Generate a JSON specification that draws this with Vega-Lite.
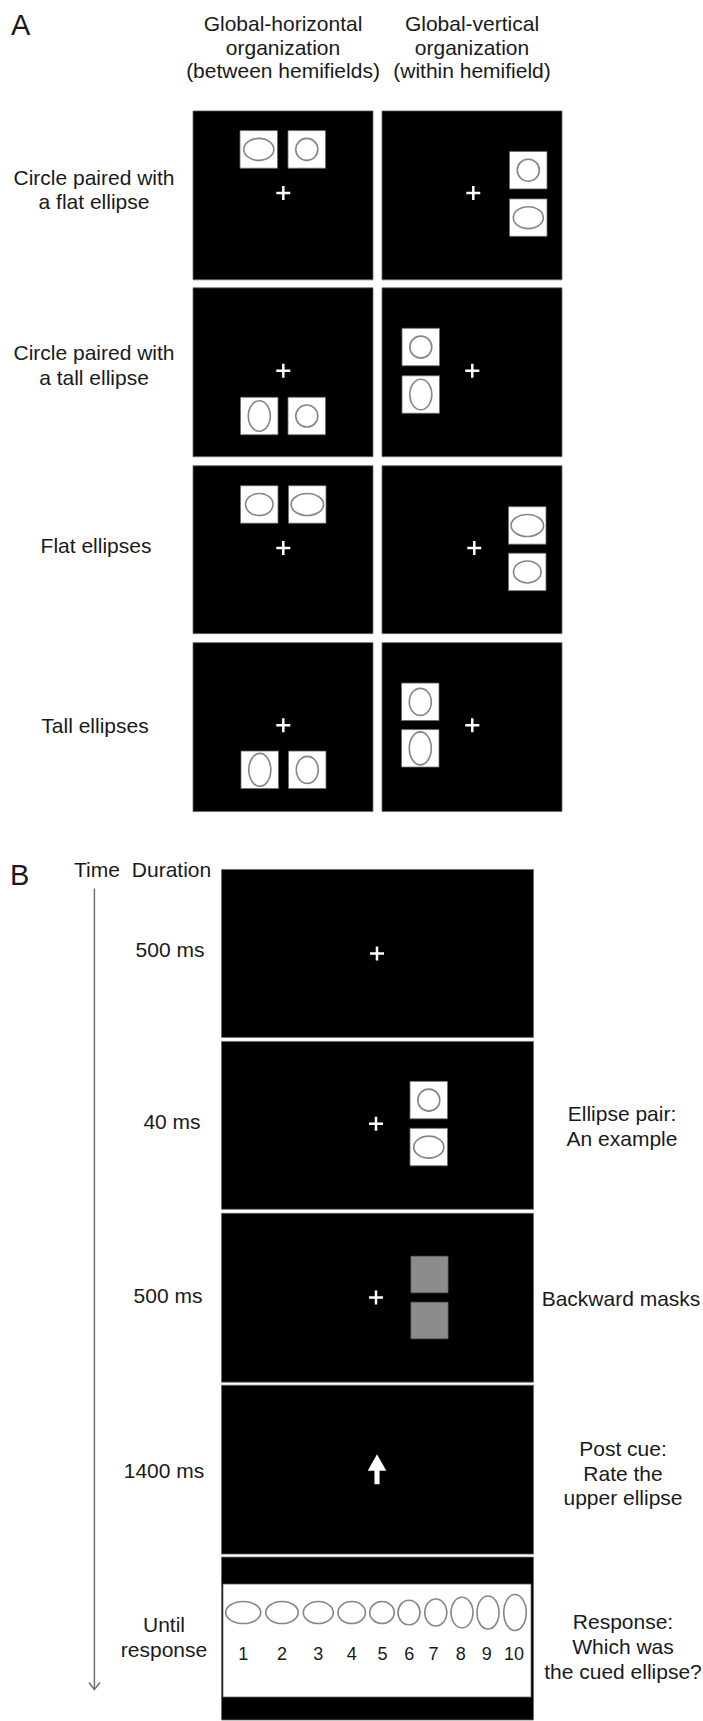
{
  "$schema": "https://vega.github.io/schema/vega-lite/v6.json",
  "width": 703,
  "height": 1721,
  "autosize": {"type": "fit", "contains": "padding"},
  "padding": 0,
  "background": "white",
  "config": {"view": {"stroke": null}},
  "datasets": {
    "rects": [
      {"kind": "panel", "x": 193, "x2": 373, "y": 111, "y2": 280},
      {"kind": "panel", "x": 382, "x2": 562, "y": 111, "y2": 280},
      {"kind": "panel", "x": 193, "x2": 373, "y": 288, "y2": 457},
      {"kind": "panel", "x": 382, "x2": 562, "y": 288, "y2": 457},
      {"kind": "panel", "x": 193, "x2": 373, "y": 466, "y2": 634},
      {"kind": "panel", "x": 382, "x2": 562, "y": 466, "y2": 634},
      {"kind": "panel", "x": 193, "x2": 373, "y": 643, "y2": 812},
      {"kind": "panel", "x": 382, "x2": 562, "y": 643, "y2": 812},
      {"kind": "panel", "x": 221.5, "x2": 533.5, "y": 870, "y2": 1038},
      {"kind": "panel", "x": 221.5, "x2": 533.5, "y": 1042, "y2": 1210},
      {"kind": "panel", "x": 221.5, "x2": 533.5, "y": 1214, "y2": 1383},
      {"kind": "panel", "x": 221.5, "x2": 533.5, "y": 1386, "y2": 1555},
      {"kind": "panel", "x": 221.5, "x2": 533.5, "y": 1558, "y2": 1721},
      {"kind": "box", "x": 240, "x2": 277.5, "y": 130.7, "y2": 168.3},
      {"kind": "box", "x": 288, "x2": 325.5, "y": 130.7, "y2": 168.3},
      {"kind": "box", "x": 509.5, "x2": 547, "y": 151.5, "y2": 189},
      {"kind": "box", "x": 509.5, "x2": 547, "y": 199, "y2": 236.5},
      {"kind": "box", "x": 240.5, "x2": 278, "y": 397.5, "y2": 435},
      {"kind": "box", "x": 288, "x2": 325.5, "y": 397.5, "y2": 435},
      {"kind": "box", "x": 402, "x2": 439.5, "y": 328.5, "y2": 366},
      {"kind": "box", "x": 402, "x2": 439.5, "y": 376, "y2": 413.5},
      {"kind": "box", "x": 240.5, "x2": 278, "y": 486, "y2": 523.5},
      {"kind": "box", "x": 288.5, "x2": 326, "y": 486, "y2": 523.5},
      {"kind": "box", "x": 508.5, "x2": 546, "y": 507, "y2": 544.5},
      {"kind": "box", "x": 508.5, "x2": 546, "y": 553.5, "y2": 591},
      {"kind": "box", "x": 241, "x2": 278.5, "y": 751.5, "y2": 789},
      {"kind": "box", "x": 288.5, "x2": 326, "y": 751.5, "y2": 789},
      {"kind": "box", "x": 401.5, "x2": 439, "y": 683.5, "y2": 721},
      {"kind": "box", "x": 401.5, "x2": 439, "y": 730, "y2": 767.5},
      {"kind": "box", "x": 410, "x2": 447.5, "y": 1082, "y2": 1119.5},
      {"kind": "box", "x": 410, "x2": 447.5, "y": 1129, "y2": 1166.5},
      {"kind": "mask", "x": 411, "x2": 448, "y": 1257, "y2": 1293.5},
      {"kind": "mask", "x": 411, "x2": 448, "y": 1303, "y2": 1339.5},
      {"kind": "box", "x": 223, "x2": 531, "y": 1585, "y2": 1698}
    ],
    "ellipses": [
      {"form": "f3", "len": 30, "x": 258.8, "y": 149.5},
      {"form": "circle", "len": 22, "x": 306.8, "y": 149.5},
      {"form": "circle", "len": 22, "x": 528.3, "y": 170.3},
      {"form": "f3", "len": 30, "x": 528.3, "y": 217.8},
      {"form": "t8", "len": 30.5, "x": 259.3, "y": 416.3},
      {"form": "circle", "len": 22, "x": 306.8, "y": 416.3},
      {"form": "circle", "len": 22, "x": 420.8, "y": 347.3},
      {"form": "t8", "len": 30.5, "x": 420.8, "y": 394.8},
      {"form": "f4", "len": 27.5, "x": 259.3, "y": 504.8},
      {"form": "f2", "len": 32.5, "x": 307.3, "y": 504.8},
      {"form": "f2", "len": 32.5, "x": 527.3, "y": 525.8},
      {"form": "f4", "len": 27.5, "x": 527.3, "y": 572.3},
      {"form": "t9", "len": 33, "x": 259.8, "y": 770.3},
      {"form": "t7", "len": 27, "x": 307.3, "y": 770.3},
      {"form": "t7", "len": 27, "x": 420.3, "y": 702.3},
      {"form": "t9", "len": 33, "x": 420.3, "y": 748.8},
      {"form": "circle", "len": 22, "x": 428.8, "y": 1100.8},
      {"form": "f3", "len": 30, "x": 428.8, "y": 1147.8},
      {"form": "f1", "len": 35, "x": 243.2, "y": 1613.5},
      {"form": "f2", "len": 32.5, "x": 282, "y": 1613.5},
      {"form": "f3", "len": 30, "x": 318.3, "y": 1613.5},
      {"form": "f4", "len": 27.5, "x": 351.7, "y": 1613.5},
      {"form": "f5", "len": 24.5, "x": 382, "y": 1613.5},
      {"form": "t6", "len": 24.5, "x": 409, "y": 1613.5},
      {"form": "t7", "len": 27, "x": 435.8, "y": 1613.5},
      {"form": "t8", "len": 30.5, "x": 462, "y": 1613.5},
      {"form": "t9", "len": 33, "x": 488, "y": 1613.5},
      {"form": "t10", "len": 36, "x": 515, "y": 1613.5}
    ],
    "crosses": [
      {"x": 283.3, "y": 193}, {"x": 473.3, "y": 193},
      {"x": 283.3, "y": 371}, {"x": 472.3, "y": 371},
      {"x": 283.3, "y": 548.3}, {"x": 474.3, "y": 548.3},
      {"x": 283.3, "y": 725.7}, {"x": 472.3, "y": 725.7},
      {"x": 377, "y": 954}, {"x": 376, "y": 1124.3}, {"x": 376, "y": 1298.3}
    ],
    "cue": [{"x": 377, "y": 1470}],
    "timeline": [{"x": 94.4, "y": 889, "y2": 1690}],
    "arrowhead": [
      {"x": 89, "y": 1683.5, "o": 1},
      {"x": 94.4, "y": 1690.5, "o": 2},
      {"x": 100, "y": 1683.5, "o": 3}
    ],
    "letters": [
      {"t": "A", "x": 11, "y": 35},
      {"t": "B", "x": 10, "y": 886}
    ],
    "numbers": [
      {"t": "1", "x": 243.2, "y": 1661},
      {"t": "2", "x": 282, "y": 1661},
      {"t": "3", "x": 318.3, "y": 1661},
      {"t": "4", "x": 351.7, "y": 1661},
      {"t": "5", "x": 382.5, "y": 1661},
      {"t": "6", "x": 409.3, "y": 1661},
      {"t": "7", "x": 433.5, "y": 1661},
      {"t": "8", "x": 460.7, "y": 1661},
      {"t": "9", "x": 486.7, "y": 1661},
      {"t": "10", "x": 514, "y": 1661}
    ],
    "labels": [
      {"t": "Global-horizontal", "x": 283, "y": 31},
      {"t": "organization", "x": 283, "y": 55},
      {"t": "(between hemifields)", "x": 283, "y": 78.5},
      {"t": "Global-vertical", "x": 472, "y": 31},
      {"t": "organization", "x": 472, "y": 55},
      {"t": "(within hemifield)", "x": 472, "y": 78.5},
      {"t": "Circle paired with", "x": 94, "y": 185},
      {"t": "a flat ellipse", "x": 94, "y": 209},
      {"t": "Circle paired with", "x": 94, "y": 360},
      {"t": "a tall ellipse", "x": 94, "y": 385},
      {"t": "Flat ellipses", "x": 96, "y": 553},
      {"t": "Tall ellipses", "x": 95, "y": 733},
      {"t": "Time", "x": 97, "y": 878},
      {"t": "Duration", "x": 171.5, "y": 878},
      {"t": "500 ms", "x": 170, "y": 958},
      {"t": "40 ms", "x": 172, "y": 1130},
      {"t": "500 ms", "x": 168, "y": 1304},
      {"t": "1400 ms", "x": 164, "y": 1479},
      {"t": "Until", "x": 164, "y": 1633},
      {"t": "response", "x": 164, "y": 1658},
      {"t": "Ellipse pair:", "x": 622, "y": 1122},
      {"t": "An example", "x": 622, "y": 1147},
      {"t": "Backward masks", "x": 621, "y": 1307},
      {"t": "Post cue:", "x": 623, "y": 1457},
      {"t": "Rate the", "x": 623, "y": 1481.5},
      {"t": "upper ellipse", "x": 623, "y": 1506},
      {"t": "Response:", "x": 623, "y": 1629.5},
      {"t": "Which was", "x": 623, "y": 1655},
      {"t": "the cued ellipse?", "x": 623, "y": 1679.5}
    ]
  },
  "layer": [
    {
      "data": {"name": "rects"},
      "mark": {"type": "rect", "opacity": 1, "stroke": "#6a6a6a", "strokeWidth": 0.8},
      "encoding": {
        "x": {"field": "x", "type": "quantitative", "scale": {"domain": [0, 703], "nice": false, "zero": false}, "axis": null},
        "x2": {"field": "x2"},
        "y": {"field": "y", "type": "quantitative", "scale": {"domain": [0, 1721], "nice": false, "zero": false, "reverse": true}, "axis": null},
        "y2": {"field": "y2"},
        "color": {"field": "kind", "type": "nominal", "scale": {"domain": ["panel", "box", "mask"], "range": ["#000000", "#ffffff", "#8c8c8c"]}, "legend": null}
      }
    },
    {
      "data": {"name": "ellipses"},
      "mark": {"type": "point", "filled": false, "color": "#868686", "strokeWidth": 1.6, "opacity": 1},
      "encoding": {
        "x": {"field": "x", "type": "quantitative", "scale": {"domain": [0, 703], "nice": false, "zero": false}, "axis": null},
        "y": {"field": "y", "type": "quantitative", "scale": {"domain": [0, 1721], "nice": false, "zero": false, "reverse": true}, "axis": null},
        "size": {"field": "len", "type": "quantitative", "scale": {"type": "pow", "exponent": 2, "domain": [0, 40], "range": [0, 1600]}, "legend": null},
        "shape": {"field": "form", "type": "nominal", "legend": null, "scale": {
          "domain": ["circle", "f1", "f2", "f3", "f4", "f5", "t6", "t7", "t8", "t9", "t10"],
          "range": [
            "circle",
            "M-1,0C-1,-0.347,-0.552,-0.629,0,-0.629C0.552,-0.629,1,-0.347,1,0C1,0.347,0.552,0.629,0,0.629C-0.552,0.629,-1,0.347,-1,0Z",
            "M-1,0C-1,-0.374,-0.552,-0.677,0,-0.677C0.552,-0.677,1,-0.374,1,0C1,0.374,0.552,0.677,0,0.677C-0.552,0.677,-1,0.374,-1,0Z",
            "M-1,0C-1,-0.405,-0.552,-0.733,0,-0.733C0.552,-0.733,1,-0.405,1,0C1,0.405,0.552,0.733,0,0.733C-0.552,0.733,-1,0.405,-1,0Z",
            "M-1,0C-1,-0.442,-0.552,-0.8,0,-0.8C0.552,-0.8,1,-0.442,1,0C1,0.442,0.552,0.8,0,0.8C-0.552,0.8,-1,0.442,-1,0Z",
            "M-1,0C-1,-0.496,-0.552,-0.898,0,-0.898C0.552,-0.898,1,-0.496,1,0C1,0.496,0.552,0.898,0,0.898C-0.552,0.898,-1,0.496,-1,0Z",
            "M-0.898,0C-0.898,-0.552,-0.496,-1,0,-1C0.496,-1,0.898,-0.552,0.898,0C0.898,0.552,0.496,1,0,1C-0.496,1,-0.898,0.552,-0.898,0Z",
            "M-0.815,0C-0.815,-0.552,-0.45,-1,0,-1C0.45,-1,0.815,-0.552,0.815,0C0.815,0.552,0.45,1,0,1C-0.45,1,-0.815,0.552,-0.815,0Z",
            "M-0.721,0C-0.721,-0.552,-0.398,-1,0,-1C0.398,-1,0.721,-0.552,0.721,0C0.721,0.552,0.398,1,0,1C-0.398,1,-0.721,0.552,-0.721,0Z",
            "M-0.667,0C-0.667,-0.552,-0.368,-1,0,-1C0.368,-1,0.667,-0.552,0.667,0C0.667,0.552,0.368,1,0,1C-0.368,1,-0.667,0.552,-0.667,0Z",
            "M-0.625,0C-0.625,-0.552,-0.345,-1,0,-1C0.345,-1,0.625,-0.552,0.625,0C0.625,0.552,0.345,1,0,1C-0.345,1,-0.625,0.552,-0.625,0Z"
          ]}}
      }
    },
    {
      "data": {"name": "crosses"},
      "mark": {"type": "point", "shape": "M-1,0L1,0M0,-1L0,1", "size": 196, "filled": false, "color": "#ffffff", "strokeWidth": 2.5, "opacity": 1},
      "encoding": {
        "x": {"field": "x", "type": "quantitative", "scale": {"domain": [0, 703], "nice": false, "zero": false}, "axis": null},
        "y": {"field": "y", "type": "quantitative", "scale": {"domain": [0, 1721], "nice": false, "zero": false, "reverse": true}, "axis": null}
      }
    },
    {
      "data": {"name": "cue"},
      "mark": {"type": "point", "shape": "M0,-1L0.62,0.1L0.17,0.1L0.17,1L-0.17,1L-0.17,0.1L-0.62,0.1Z", "size": 900, "filled": true, "color": "#ffffff", "opacity": 1},
      "encoding": {
        "x": {"field": "x", "type": "quantitative", "scale": {"domain": [0, 703], "nice": false, "zero": false}, "axis": null},
        "y": {"field": "y", "type": "quantitative", "scale": {"domain": [0, 1721], "nice": false, "zero": false, "reverse": true}, "axis": null}
      }
    },
    {
      "data": {"name": "timeline"},
      "mark": {"type": "rule", "color": "#707070", "strokeWidth": 1.5},
      "encoding": {
        "x": {"field": "x", "type": "quantitative", "scale": {"domain": [0, 703], "nice": false, "zero": false}, "axis": null},
        "y": {"field": "y", "type": "quantitative", "scale": {"domain": [0, 1721], "nice": false, "zero": false, "reverse": true}, "axis": null},
        "y2": {"field": "y2"}
      }
    },
    {
      "data": {"name": "arrowhead"},
      "mark": {"type": "line", "color": "#707070", "strokeWidth": 1.5},
      "encoding": {
        "x": {"field": "x", "type": "quantitative", "scale": {"domain": [0, 703], "nice": false, "zero": false}, "axis": null},
        "y": {"field": "y", "type": "quantitative", "scale": {"domain": [0, 1721], "nice": false, "zero": false, "reverse": true}, "axis": null},
        "order": {"field": "o", "type": "quantitative"}
      }
    },
    {
      "data": {"name": "letters"},
      "mark": {"type": "text", "font": "Liberation Sans", "fontSize": 29, "align": "left", "baseline": "alphabetic", "color": "#1a1a1a"},
      "encoding": {
        "x": {"field": "x", "type": "quantitative", "scale": {"domain": [0, 703], "nice": false, "zero": false}, "axis": null},
        "y": {"field": "y", "type": "quantitative", "scale": {"domain": [0, 1721], "nice": false, "zero": false, "reverse": true}, "axis": null},
        "text": {"field": "t", "type": "nominal"}
      }
    },
    {
      "data": {"name": "labels"},
      "mark": {"type": "text", "font": "Liberation Sans", "fontSize": 21, "align": "center", "baseline": "alphabetic", "color": "#1a1a1a"},
      "encoding": {
        "x": {"field": "x", "type": "quantitative", "scale": {"domain": [0, 703], "nice": false, "zero": false}, "axis": null},
        "y": {"field": "y", "type": "quantitative", "scale": {"domain": [0, 1721], "nice": false, "zero": false, "reverse": true}, "axis": null},
        "text": {"field": "t", "type": "nominal"}
      }
    },
    {
      "data": {"name": "numbers"},
      "mark": {"type": "text", "font": "Liberation Sans", "fontSize": 18, "align": "center", "baseline": "alphabetic", "color": "#1a1a1a"},
      "encoding": {
        "x": {"field": "x", "type": "quantitative", "scale": {"domain": [0, 703], "nice": false, "zero": false}, "axis": null},
        "y": {"field": "y", "type": "quantitative", "scale": {"domain": [0, 1721], "nice": false, "zero": false, "reverse": true}, "axis": null},
        "text": {"field": "t", "type": "nominal"}
      }
    }
  ]
}
